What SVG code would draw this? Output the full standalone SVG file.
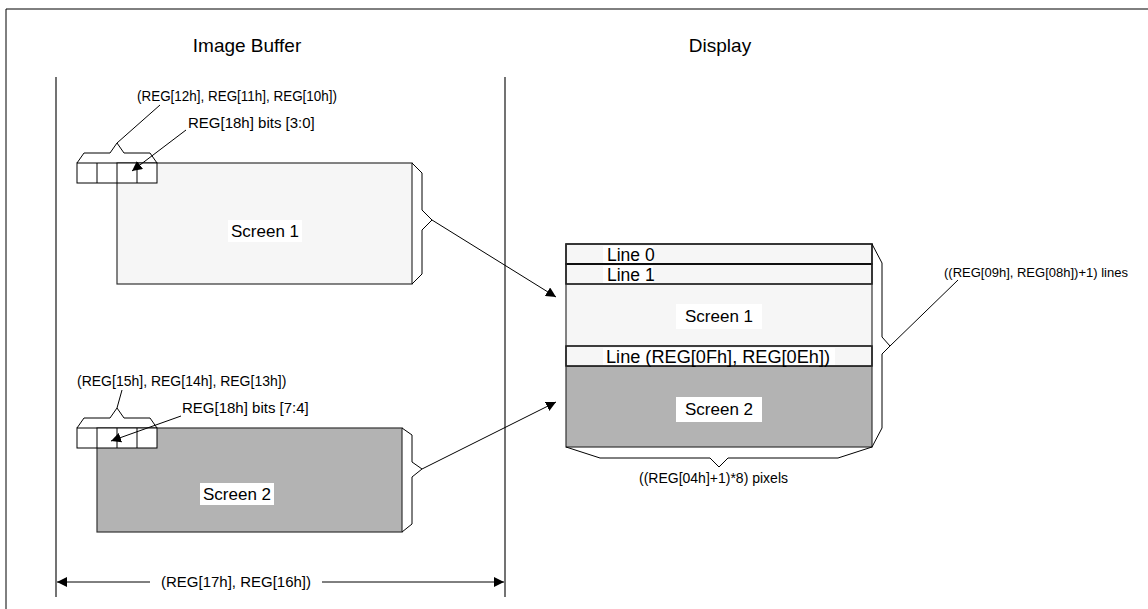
<svg xmlns="http://www.w3.org/2000/svg" width="1148" height="609" viewBox="0 0 1148 609">
<style>
text{font-family:"Liberation Sans",Arial,sans-serif;fill:#000}
.t{font-size:19px}
.sc{font-size:17px}
.li{font-size:17.5px}
.s{font-size:14px}
.s15{font-size:15px}
.s13{font-size:13px}
.ln{stroke:#000;stroke-width:1;fill:none}
.bx{stroke:#333;stroke-width:1.2}
.lt{fill:#f6f6f6}
.dk{fill:#b3b3b3}
.wb{fill:#fff}
</style>
<defs>
<marker id="ah" viewBox="0 0 10 10" refX="10" refY="5" markerWidth="10" markerHeight="10" orient="auto-start-reverse" markerUnits="userSpaceOnUse"><path d="M0,0 L10,5 L0,10 z" fill="#000"/></marker>
</defs>
<rect width="1148" height="609" fill="#fff"/>
<path d="M6,609 V9 H1148" class="ln" stroke-width="1.5"/>
<g id="titles">
<text class="t" x="247" y="52" text-anchor="middle">Image Buffer</text>
<text class="t" x="720" y="52" text-anchor="middle">Display</text>
</g>
<g id="guides">
<line x1="56" y1="77" x2="56" y2="597" stroke="#444" stroke-width="1.5"/>
<line x1="505" y1="77" x2="505" y2="597" stroke="#444" stroke-width="1.5"/>
</g>
<g id="screen1-buffer">
<rect x="117" y="163" width="295" height="121" class="bx lt"/>
<rect x="228" y="220" width="74" height="22" class="wb"/>
<text class="sc" x="265" y="237" text-anchor="middle">Screen 1</text>
<path d="M412,163 L422,173 L422,210 L432,220 L422,230 L422,274 L412,284" class="ln"/>
</g>
<g id="cells1">
<rect x="77" y="163" width="80" height="20" fill="#fff" stroke="#000"/>
<path d="M97,163 V183 M117,163 V183 M137,163 V183" class="ln"/>
<path d="M77,163 L84,153 L110,153 L117,143 L124,153 L150,153 L157,163" class="ln"/>
<text class="s" x="137" y="101" textLength="200" lengthAdjust="spacingAndGlyphs">(REG[12h], REG[11h], REG[10h])</text>
<text class="s15" x="188" y="128">REG[18h] bits [3:0]</text>
</g>
<g id="screen2-buffer">
<rect x="97" y="428" width="305" height="104" class="bx dk"/>
<rect x="200" y="483" width="74" height="22" class="wb"/>
<text class="sc" x="237" y="500" text-anchor="middle">Screen 2</text>
<path d="M402,428 L412,435 L412,462 L422,469 L412,477 L412,524 L402,532" class="ln"/>
</g>
<g id="cells2">
<rect x="77" y="428" width="80" height="20" fill="#fff" stroke="#000"/>
<path d="M97,428 V448 M117,428 V448 M137,428 V448" class="ln"/>
<path d="M77,428 L84,418 L110,418 L117,408 L124,418 L150,418 L157,428" class="ln"/>
<text class="s" x="77" y="386">(REG[15h], REG[14h], REG[13h])</text>
<text class="s15" x="182" y="413">REG[18h] bits [7:4]</text>
</g>
<g id="display">
<rect x="566" y="244" width="306" height="203" class="lt"/>
<rect x="566" y="366" width="306" height="81" class="dk"/>
<rect x="566" y="244" width="306" height="20" fill="none" stroke="#000" stroke-width="1.5"/>
<rect x="566" y="264" width="306" height="20" fill="none" stroke="#000" stroke-width="1.5"/>
<rect x="566" y="346" width="306" height="20" fill="none" stroke="#000" stroke-width="1.5"/>
<rect x="566" y="244" width="306" height="203" fill="none" stroke="#333" stroke-width="1.2"/>
<rect x="603" y="246" width="50" height="17" class="wb"/>
<text class="li" x="607" y="261">Line 0</text>
<rect x="603" y="266" width="50" height="17" class="wb"/>
<text class="li" x="607" y="281">Line 1</text>
<rect x="676" y="304" width="86" height="25" class="wb"/>
<text class="sc" x="719" y="322" text-anchor="middle">Screen 1</text>
<rect x="603" y="348" width="232" height="17" class="wb"/>
<text class="li" x="606" y="363" textLength="224" lengthAdjust="spacingAndGlyphs">Line (REG[0Fh], REG[0Eh])</text>
<rect x="676" y="397" width="86" height="25" class="wb"/>
<text class="sc" x="719" y="415" text-anchor="middle">Screen 2</text>
<path d="M872,244 L882,263 L882,337 L890,346 L882,354 L882,428 L872,447" class="ln"/>
<path d="M566,447 L600,458 L710,458 L719,467 L728,458 L838,458 L872,447" class="ln"/>
<text class="s13" x="944" y="277">((REG[09h], REG[08h])+1) lines</text>
<text class="s" x="639" y="483">((REG[04h]+1)*8) pixels</text>
</g>
<g id="connectors">
<line x1="160" y1="105" x2="117" y2="143" class="ln"/>
<line x1="186" y1="130" x2="132" y2="171" class="ln" marker-end="url(#ah)"/>
<line x1="122" y1="390" x2="117" y2="408" class="ln"/>
<line x1="181" y1="416" x2="111" y2="441" class="ln" marker-end="url(#ah)"/>
<line x1="432" y1="220" x2="556" y2="297" class="ln" marker-end="url(#ah)"/>
<line x1="422" y1="469" x2="556" y2="402" class="ln" marker-end="url(#ah)"/>
<line x1="958" y1="280" x2="890" y2="346" class="ln"/>
<line x1="150" y1="582" x2="57" y2="582" class="ln" marker-end="url(#ah)"/>
<line x1="322" y1="582" x2="504" y2="582" class="ln" marker-end="url(#ah)"/>
<text class="s15" x="236" y="587" text-anchor="middle">(REG[17h], REG[16h])</text>
</g>
</svg>
